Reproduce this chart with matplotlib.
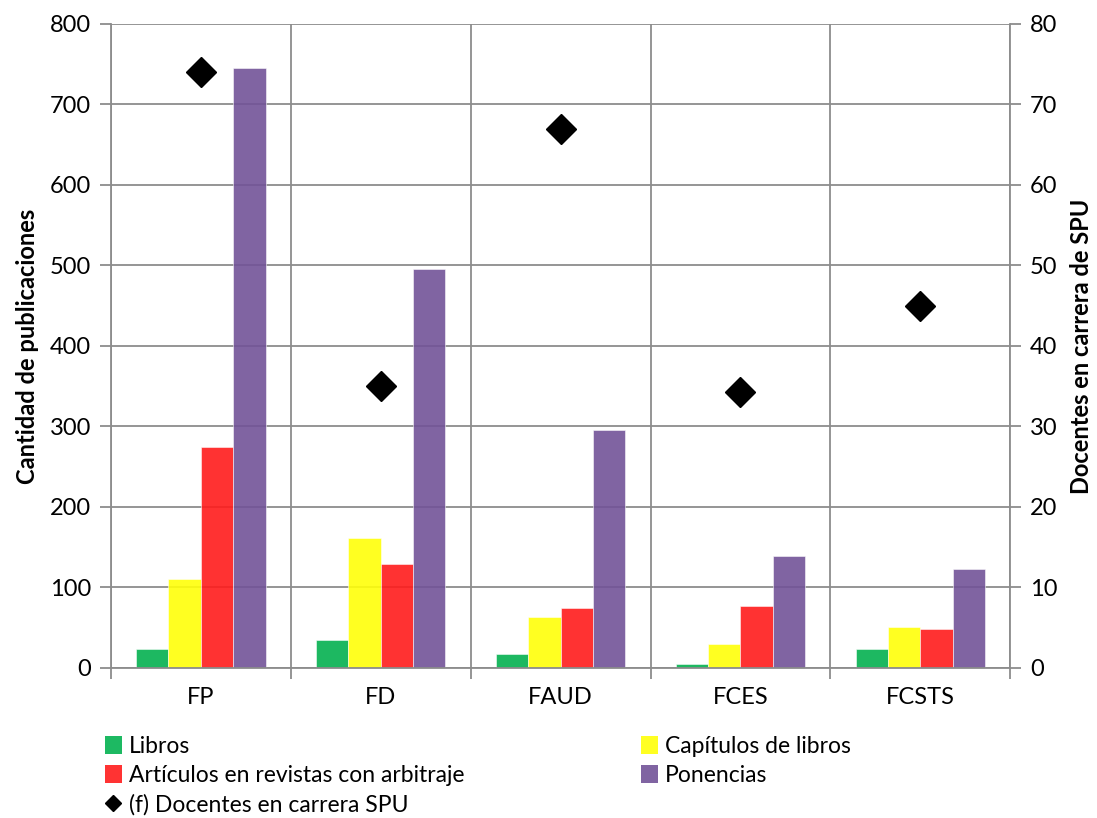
import numpy as np
import matplotlib
matplotlib.use("Agg")
import matplotlib.pyplot as plt
from matplotlib.lines import Line2D
from matplotlib.patches import Patch

plt.rcParams['font.family'] = ['Lato', 'DejaVu Sans']

categorias = ['FP', 'FD', 'FAUD', 'FCES', 'FCSTS']
libros = [24, 35, 17, 5, 23]
capitulos = [110, 162, 63, 30, 51]
articulos = [274, 129, 75, 77, 49]
ponencias = [745, 496, 295, 139, 123]
docentes = [74, 35, 67, 34.3, 45]

# base colours, drawn with a little transparency so the grid shows through
series = [
    ('Libros', libros, '#04b150'),
    ('Capítulos de libros', capitulos, '#ffff09'),
    ('Artículos en revistas con arbitraje', articulos, '#ff1c1c'),
    ('Ponencias', ponencias, '#725398'),
]
legend_cols = {'Libros': '#1db962', 'Capítulos de libros': '#ffff22',
               'Artículos en revistas con arbitraje': '#ff3333', 'Ponencias': '#8064a2'}

grid_col = '#8c8c8c'
fs = 17

fig = plt.figure(figsize=(10.97, 8.18), dpi=100)
ax = fig.add_axes([0.101, 0.1834, 0.820, 0.7873])
ax2 = ax.twinx()

x = np.arange(len(categorias))
w = 0.18
handles = {}
for i, (nombre, vals, col) in enumerate(series):
    ax.bar(x + (i - 1.5) * w, vals, w, color=col, alpha=0.9,
           edgecolor='white', linewidth=0.4, zorder=2)
    handles[nombre] = Patch(facecolor=legend_cols[nombre], edgecolor='none')

ax2.plot(x, docentes, linestyle='none', marker='D', markersize=15.5,
         color='black', zorder=5)

ax.set_xlim(-0.5, len(categorias) - 0.5)
ax.set_ylim(0, 800)
ax.set_yticks(np.arange(0, 801, 100))
ax2.set_ylim(0, 80)
ax2.set_yticks(np.arange(0, 81, 10))

# ticks at category boundaries, labels at centres
ax.set_xticks(np.arange(-0.5, len(categorias), 1.0))
ax.set_xticklabels([])
ax.set_xticks(x, minor=True)
ax.set_xticklabels(categorias, minor=True, fontsize=fs)
ax.tick_params(axis='x', which='minor', length=0, pad=14)
ax.tick_params(axis='x', which='major', length=8, width=1.3, color=grid_col)
ax.tick_params(axis='y', length=8, width=1.3, color=grid_col, labelsize=fs, pad=6)
ax2.tick_params(axis='y', length=8, width=1.3, color=grid_col, labelsize=fs, pad=6)

ax.grid(True, which='major', color=grid_col, linewidth=1.3, zorder=0)
ax.set_axisbelow(True)

for a in (ax, ax2):
    for s in a.spines.values():
        s.set_visible(False)
for a, lado in ((ax, 'left'), (ax, 'bottom'), (ax2, 'right')):
    a.spines[lado].set_visible(True)
    a.spines[lado].set_color(grid_col)
    a.spines[lado].set_linewidth(1.3)

ax.set_ylabel('Cantidad de publicaciones', fontsize=17, fontweight='bold', labelpad=8)
ax2.set_ylabel('Docentes en carrera de SPU', fontsize=17, fontweight='bold',
               rotation=90, labelpad=9)

diamante = Line2D([], [], linestyle='none', marker='D', markersize=8, color='black')
orden = [handles['Libros'], handles['Artículos en revistas con arbitraje'], diamante,
         handles['Capítulos de libros'], handles['Ponencias']]
etiquetas = ['Libros', 'Artículos en revistas con arbitraje', '(f) Docentes en carrera SPU',
             'Capítulos de libros', 'Ponencias']
fig.legend(orden, etiquetas, ncol=2, loc='upper left', bbox_to_anchor=(0.085, 0.114),
           frameon=False, fontsize=16.5, handlelength=0.75, handleheight=0.8,
           handletextpad=0.3, columnspacing=7.7, labelspacing=0.35, borderpad=0)

fig.savefig('out.png', dpi=100)
